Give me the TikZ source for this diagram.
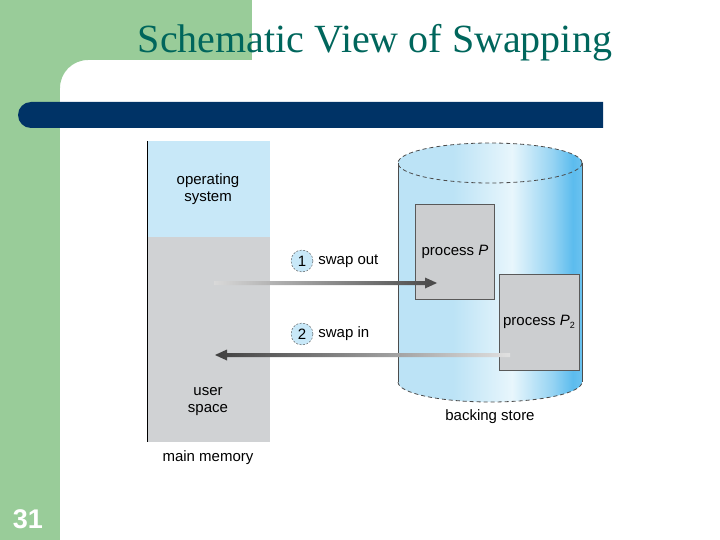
\documentclass[tikz,border=0pt]{standalone}
\usepackage{fontspec}
\setmainfont{Liberation Serif}
\setsansfont{Liberation Sans}
\usetikzlibrary{calc,positioning}
\definecolor{slidegreen}{RGB}{153,204,153}
\definecolor{barblue}{RGB}{0,51,102}
\definecolor{titleteal}{RGB}{0,102,92}
\definecolor{osblue}{RGB}{200,232,248}
\definecolor{memgray}{RGB}{208,210,212}
\definecolor{procgray}{RGB}{204,206,208}
\definecolor{cylleft}{RGB}{188,227,246}
\definecolor{cylmid}{RGB}{232,246,252}
\definecolor{cylright}{RGB}{92,188,238}
\pgfdeclarehorizontalshading{cylshade}{100bp}{
  color(0bp)=(cylleft); color(40bp)=(cylleft); color(56bp)=(cylmid);
  color(67bp)=(cylleft!60!cylright); color(72.5bp)=(cylright); color(75bp)=(cylright!85!cylleft);
  color(100bp)=(cylright!85!cylleft)}
\tikzset{
  lbl/.style={font=\sffamily\fontsize{15}{17}\selectfont, align=center, inner sep=0pt},
  procbox/.style={fill=procgray, draw=black!65, line width=0.8, inner sep=0pt,
    font=\sffamily\fontsize{15}{17}\selectfont},
  stepcircle/.style={circle, fill=osblue, draw=black!70, dash pattern=on 2pt off 1.5pt,
    minimum size=22, inner sep=0pt, font=\sffamily\fontsize{15}{17}\selectfont},
  cylline/.style={draw=black!70, line width=0.8}
}
\begin{document}
\begin{tikzpicture}[x=1pt,y=-1pt]
        \useasboundingbox (0,0) rectangle (720,540);
        %% Slide background
        \fill[slidegreen] (0,0) rectangle (60,540);
        \fill[slidegreen] (0,0) rectangle (252,60);
        \fill[slidegreen] (60,60) -- (88,60) arc (270:180:28) -- cycle;
        \fill[barblue] (31,102) -- (603,102) -- (603,128) -- (31,128) arc (90:270:13) -- cycle;
        \node[font=\rmfamily\fontsize{40}{40}\selectfont, text=titleteal, anchor=base, inner sep=0pt] (title) at (375,53) {Schematic View of Swapping};
        \node[font=\sffamily\bfseries\fontsize{27}{27}\selectfont, text=white, inner sep=0pt] (slideno) at (28,519) {31};
        %% Backing store
        \shade[shading=cylshade]
            (398,163) -- (398,382) arc (180:0:92 and 20) -- (582,163) arc (0:-180:92 and 20) -- cycle;
        \draw[cylline] (398,163) -- (398,382);
        \draw[cylline] (582,163) -- (582,382);
        \draw[cylline, dash pattern=on 4pt off 3pt] (490,163) ellipse (92 and 20);
        \draw[cylline, dash pattern=on 4pt off 3pt] (398,382) arc (180:0:92 and 20);
        \node[lbl] (store) at (490,417) {backing store};
        %% Processes on disk
        \node[procbox, minimum width=79, minimum height=95] (proc) at (455,251.5) {process {\itshape P}};
        \node[procbox, minimum width=80, minimum height=96] (proctwo) at (539,322) {process {\itshape P}\raisebox{-0.35ex}{\fontsize{9}{9}\selectfont 2}};
        %% Main memory
        \fill[osblue] (147,141) rectangle (270,237);
        \fill[memgray] (147,237) rectangle (270,442);
        \draw[black, line width=1] (147,141) -- (147,442);
        \node[lbl] (os) at (208,189) {operating\\system};
        \node[lbl] (user) at (208,402) {user\\space};
        \node[lbl] (mem) at (208,458) {main memory};
        %% Swap out
        \coordinate (outA) at (214,283);
        \coordinate (outB) at (437,283);
        \shade[left color=black!15, right color=black!72]
            ($(outA)+(0,-2)$) -- ($(outB)+(-12,-2)$) -- ($(outB)+(-12,-5.5)$) -- (outB)
            -- ($(outB)+(-12,5.5)$) -- ($(outB)+(-12,2)$) -- ($(outA)+(0,2)$) -- cycle;
        \node[stepcircle] (one) at (302,261) {1};
        \node[lbl, right=5pt of one] (swapout) {swap out};
        %% Swap in
        \coordinate (inA) at (510,355);
        \coordinate (inB) at (215,355);
        \shade[left color=black!75, right color=black!12]
            ($(inA)+(0,-2)$) -- ($(inB)+(12,-2)$) -- ($(inB)+(12,-5.5)$) -- (inB)
            -- ($(inB)+(12,5.5)$) -- ($(inB)+(12,2)$) -- ($(inA)+(0,2)$) -- cycle;
        \node[stepcircle] (two) at (302,334) {2};
        \node[lbl, right=5pt of two] (swapin) {swap in};
    \end{tikzpicture}
\end{document}
